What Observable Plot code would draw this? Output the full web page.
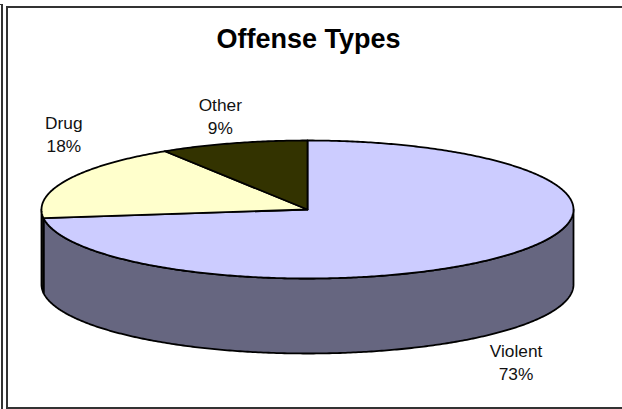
<!DOCTYPE html>
<html>
<head>
<meta charset="utf-8">
<style>
html,body{margin:0;padding:0;background:#fff;width:622px;height:409px;overflow:hidden}
#outer{position:absolute;left:0;top:4px;width:3px;height:405px;box-sizing:border-box;border-top:1px solid #333;border-right:2px solid #333}
#frame{position:absolute;left:6px;top:6px;width:620px;height:403px;box-sizing:border-box;border:2px solid #333;border-right:none}
#title{position:absolute;left:0;top:24px;width:617px;text-align:center;font:bold 27px "Liberation Sans",Arial,sans-serif;line-height:30px;color:#000}
#chart{position:absolute;left:0;top:0}
</style>
<script src="https://cdn.jsdelivr.net/npm/d3@7"></script>
<script src="https://cdn.jsdelivr.net/npm/@observablehq/plot@0.6"></script>
</head>
<body>
<div id="chart"></div>
<div id="outer"></div>
<div id="frame"></div>
<div id="title">Offense Types</div>
<script>
const categories = ["Violent", "Drug", "Other"];
const shares = [73, 18, 9];
const topColors = ["#CCCCFF", "#FFFFCC", "#333300"];
const sideColors = ["#666680", "#33331f", "#1a1a00"];

// Layout of the tilted disc, in page pixels
const cx = 307, cy = 209, rx = 266, ry = 69, depth = 75;
const labelShift = [[9, 31], [-3, -47], [-13, -28]];

const total = d3.sum(shares);
const px = a => cx + rx * Math.sin(a);
const py = a => cy - ry * Math.cos(a);
const arcPoints = (a0, a1) => {
  const n = Math.max(2, Math.ceil((a1 - a0) / 0.01));
  return d3.range(n + 1).map(i => a0 + (a1 - a0) * i / n);
};

let acc = 0;
const slices = categories.map((name, i) => {
  const a0 = acc / total * 2 * Math.PI;
  acc += shares[i];
  const a1 = acc / total * 2 * Math.PI;
  return {name, i, a0, a1, mid: (a0 + a1) / 2, share: shares[i]};
});

// Front wall: only the part of each slice's rim facing the viewer
const sidePts = [];
for (const s of slices) {
  const a0 = Math.max(s.a0, Math.PI / 2), a1 = Math.min(s.a1, 3 * Math.PI / 2);
  if (a1 <= a0) continue;
  const key = "side " + s.name;
  for (const a of arcPoints(a0, a1)) sidePts.push({key, x: px(a), y: py(a)});
  for (const a of arcPoints(a0, a1).reverse()) sidePts.push({key, x: px(a), y: py(a) + depth});
}

// Top faces
const topPts = [];
for (const s of slices) {
  topPts.push({key: s.name, x: cx, y: cy});
  for (const a of arcPoints(s.a0, s.a1)) topPts.push({key: s.name, x: px(a), y: py(a)});
}

const labels = slices.map(s => {
  const front = Math.cos(s.mid) < 0;
  return {
    text: `${s.name}\n${s.share}%`,
    x: px(s.mid) + labelShift[s.i][0],
    y: py(s.mid) + (front ? depth : 0) + labelShift[s.i][1]
  };
});

const colorDomain = [...categories, ...categories.map(c => "side " + c)];
const colorRange = [...topColors, ...sideColors];

const plot = Plot.plot({
  width: 622,
  height: 409,
  margin: 0,
  style: {background: "transparent"},
  x: {domain: [0, 622], range: [0, 622], axis: null},
  y: {domain: [0, 409], range: [0, 409], axis: null},
  color: {domain: colorDomain, range: colorRange},
  marks: [
    Plot.line(sidePts, {x: "x", y: "y", z: "key", fill: "key", stroke: "#000", strokeWidth: 1.8, curve: "linear-closed", strokeLinejoin: "round"}),
    Plot.line(topPts, {x: "x", y: "y", z: "key", fill: "key", stroke: "#000", strokeWidth: 1.8, curve: "linear-closed", strokeLinejoin: "round"}),
    Plot.text(labels, {x: "x", y: "y", text: "text", fontSize: 17.3, lineHeight: 1.3, fontFamily: "'Liberation Sans', Arial, sans-serif", fill: "#111", textAnchor: "middle"})
  ]
});
document.getElementById("chart").appendChild(plot);
</script>
</body>
</html>
